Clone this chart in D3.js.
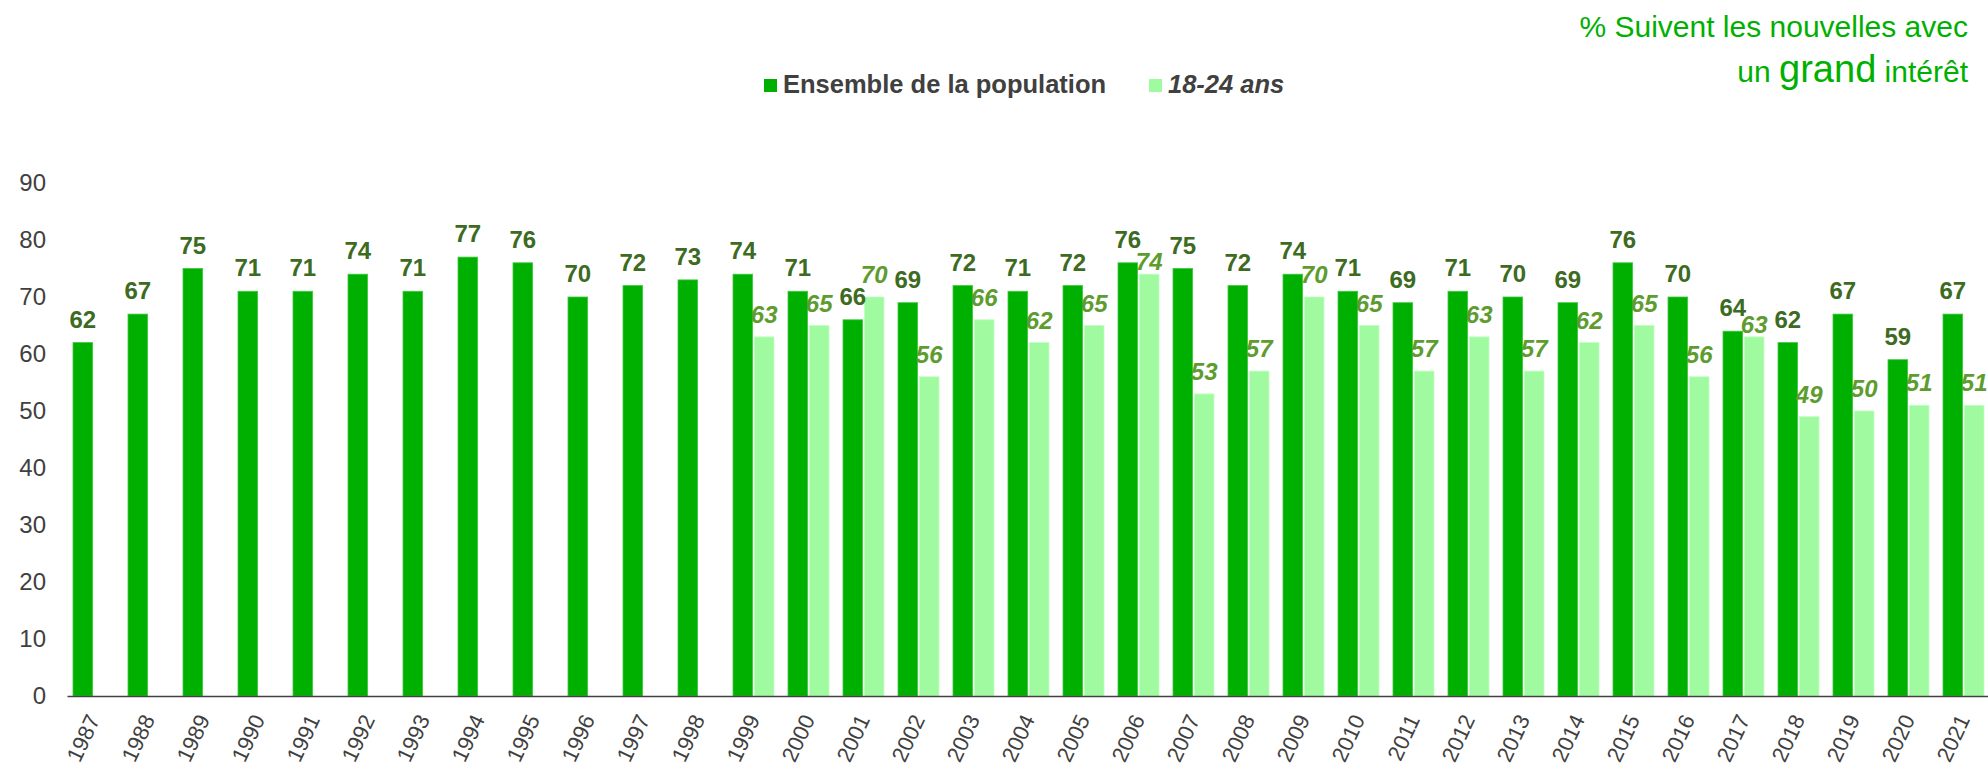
<!DOCTYPE html>
<html lang="fr">
<head>
<meta charset="utf-8">
<title>Intérêt pour les nouvelles</title>
<script src="https://d3js.org/d3.v7.min.js"></script>
<style>
  body { margin: 0; background: #fff; }
  svg text { font-family: "Liberation Sans", Arial, sans-serif; }
</style>
</head>
<body>
<div id="chart"></div>
<script>
// données
var years = ["1987","1988","1989","1990","1991","1992","1993","1994","1995","1996","1997","1998",
             "1999","2000","2001","2002","2003","2004","2005","2006","2007","2008","2009","2010",
             "2011","2012","2013","2014","2015","2016","2017","2018","2019","2020","2021"];
var ensemble = [62,67,75,71,71,74,71,77,76,70,72,73,
                74,71,66,69,72,71,72,76,75,72,74,71,
                69,71,70,69,76,70,64,62,67,59,67];
var jeunes = [null,null,null,null,null,null,null,null,null,null,null,null,
              63,65,70,56,66,62,65,74,53,57,70,65,
              57,63,57,62,65,56,63,49,50,51,51];
var seriesNames = ["Ensemble de la population", "18-24 ans"];
var yTicks = [0,10,20,30,40,50,60,70,80,90];

var W = 1988, H = 771;
var darkGreen = "#00b000", lightGreen = "#a0fba0";
var darkLabel = "#3d6b22", lightLabel = "#5e9c2e", grey = "#404040";

var svg = d3.select("#chart").append("svg")
    .attr("width", W).attr("height", H);

var x = d3.scaleBand().domain(years).range([67, 1992]);
var xSub = d3.scaleBand().domain(seriesNames).range([-21.5, 19.5]).paddingInner(0.08);
var y = d3.scaleLinear().domain([0, 90]).range([696, 183]);

// axe Y (labels seuls)
var yAxis = svg.append("g")
    .attr("transform", "translate(46,0)")
    .call(d3.axisLeft(y).tickValues(yTicks).tickSize(0).tickPadding(0));
yAxis.select(".domain").remove();
yAxis.selectAll("text")
    .attr("fill", grey)
    .style("font-size", "24px")
    .style("font-family", "'Liberation Sans', Arial, sans-serif");

var rows = years.map(function(yr, i) {
  return { year: yr, ens: ensemble[i], jeu: jeunes[i] };
});

var center = function(d) { return x(d.year) + x.bandwidth() / 2; };

// barres ensemble
svg.append("g").selectAll("rect")
  .data(rows)
  .join("rect")
    .attr("x", d => center(d) + xSub(seriesNames[0]))
    .attr("y", d => y(d.ens))
    .attr("width", xSub.bandwidth())
    .attr("height", d => y(0) - y(d.ens))
    .attr("fill", darkGreen)
    .attr("stroke", "#40c840")
    .attr("stroke-width", 0.8);

// barres 18-24
svg.append("g").selectAll("rect")
  .data(rows.filter(d => d.jeu != null))
  .join("rect")
    .attr("x", d => center(d) + xSub(seriesNames[1]))
    .attr("y", d => y(d.jeu))
    .attr("width", xSub.bandwidth())
    .attr("height", d => y(0) - y(d.jeu))
    .attr("fill", lightGreen)
    .attr("stroke", "#c0ffc0")
    .attr("stroke-width", 0.8);

// axe X
var xAxis = svg.append("g")
    .attr("transform", "translate(0,696)")
    .call(d3.axisBottom(x).tickSize(0).tickFormat(""));
xAxis.select(".domain").attr("stroke", grey).attr("stroke-width", 1.5);

svg.append("g").selectAll("text")
  .data(rows)
  .join("text")
    .attr("transform", d => "translate(" + (center(d) - 1) + ",716) rotate(-65)")
    .attr("text-anchor", "end")
    .attr("dy", "0.35em")
    .attr("fill", grey)
    .style("font-size", "22px")
    .text(d => d.year);

// étiquettes de valeurs
svg.append("g").selectAll("text")
  .data(rows)
  .join("text")
    .attr("x", d => center(d) + xSub(seriesNames[0]) + xSub.bandwidth() / 2)
    .attr("y", d => y(d.ens) - 15)
    .attr("text-anchor", "middle")
    .attr("fill", darkLabel)
    .style("font-size", "24px")
    .style("font-weight", "bold")
    .text(d => d.ens);

svg.append("g").selectAll("text")
  .data(rows.filter(d => d.jeu != null))
  .join("text")
    .attr("x", d => center(d) + xSub(seriesNames[1]) + xSub.bandwidth() / 2)
    .attr("y", d => {
      // évite le chevauchement avec l'étiquette voisine
      var gap = (d.ens - d.jeu >= 0 && d.ens - d.jeu <= 3) ? 4 : 14;
      return y(d.jeu) - gap;
    })
    .attr("text-anchor", "middle")
    .attr("fill", lightLabel)
    .style("font-size", "24px")
    .style("font-weight", "bold")
    .style("font-style", "italic")
    .text(d => d.jeu);

// légende
var legend = svg.append("g");
var legX = [764, 1149];
var legColors = [darkGreen, lightGreen];
seriesNames.forEach(function(name, i) {
  legend.append("rect")
    .attr("x", legX[i]).attr("y", 79)
    .attr("width", 13).attr("height", 13)
    .attr("fill", legColors[i]);
  legend.append("text")
    .attr("x", legX[i] + 19).attr("y", 93)
    .attr("fill", grey)
    .style("font-size", "25.5px")
    .style("font-weight", "bold")
    .style("font-style", i == 1 ? "italic" : "normal")
    .text(name);
});

// titre haut droite
var title = svg.append("g").attr("fill", darkGreen);
title.append("text")
  .attr("x", 1968).attr("y", 37)
  .attr("text-anchor", "end")
  .style("font-size", "30px")
  .text("% Suivent les nouvelles avec");
var t2 = title.append("text")
  .attr("x", 1968).attr("y", 82)
  .attr("text-anchor", "end")
  .style("font-size", "30px");
t2.append("tspan").text("un ");
t2.append("tspan").style("font-size", "38px").text("grand");
t2.append("tspan").text(" intérêt");
</script>
</body>
</html>
